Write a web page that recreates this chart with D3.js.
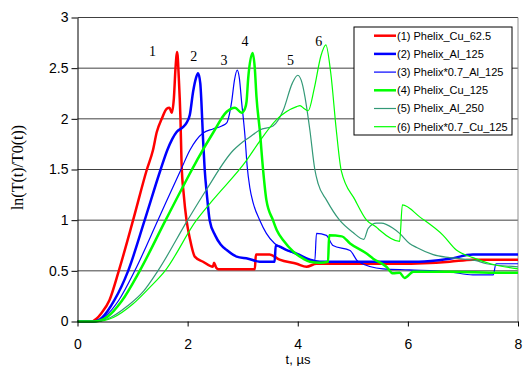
<!DOCTYPE html>
<html>
<head>
<meta charset="UTF-8">
<title>ln(T/T0)</title>
<style>
  body { margin: 0; background: #fff; }
  svg { display: block; }
  .tick text { font-family: Arial, "Liberation Sans", sans-serif; font-size: 14px; fill: #000; }
</style>
</head>
<body>
<script src="https://cdnjs.cloudflare.com/ajax/libs/d3/7.8.5/d3.min.js"></script>
<script>
// axis ticks
const xTicks = [0, 2, 4, 6, 8];
const yTicks = [0, 0.5, 1, 1.5, 2, 2.5, 3];

const seriesNames = ["(1) Phelix_Cu_62.5", "(2) Phelix_Al_125", "(3) Phelix*0.7_Al_125",
  "(4) Phelix_Cu_125", "(5) Phelix_Al_250", "(6) Phelix*0.7_Cu_125"];

// [t (us), ln(T/T0)]
const cu625 = [[0,0],[0.25,0],[0.35,0.03],[0.43,0.08],[0.58,0.21],[0.75,0.5],[1.01,1.0],[1.26,1.5],[1.37,1.69],
  [1.44,1.87],[1.53,2.0],[1.62,2.1],[1.67,2.11],[1.71,2.06],[1.75,2.2],[1.78,2.5],[1.81,2.66],[1.84,2.4],
  [1.87,2.0],[1.89,1.56],[1.93,1.25],[1.98,1.0],[2.04,0.82],[2.13,0.64],[2.28,0.59],[2.46,0.54],[2.48,0.58],
  [2.52,0.53],[2.56,0.515],[3.22,0.515],[3.24,0.66],[3.49,0.66],[3.67,0.61],[3.98,0.57],[4.16,0.54],[4.34,0.57],
  [5.19,0.57],[5.85,0.57],[6.76,0.59],[7.18,0.61],[8,0.61]];
const al125 = [[0,0],[0.3,0],[0.45,0.04],[0.67,0.21],[0.92,0.5],[1.22,1.0],[1.51,1.5],[1.63,1.69],[1.72,1.8],
  [1.8,1.87],[1.92,1.92],[1.98,1.96],[2.04,2.04],[2.1,2.27],[2.15,2.4],[2.19,2.45],[2.23,2.35],[2.25,2.17],
  [2.28,1.8],[2.31,1.5],[2.35,1.25],[2.4,1.0],[2.5,0.85],[2.6,0.76],[2.71,0.705],[2.89,0.64],[3.1,0.62],
  [3.31,0.59],[3.58,0.59],[3.6,0.75],[3.8,0.705],[3.98,0.67],[4.22,0.61],[4.4,0.59],[5.31,0.59],[6.2,0.59],
  [6.76,0.62],[7.18,0.66],[8,0.66]];
const al125x07 = [[0,0],[0.3,0],[0.5,0.05],[0.75,0.21],[1.04,0.5],[1.46,1.0],[1.88,1.5],[2.04,1.69],[2.28,1.86],
  [2.46,1.9],[2.62,1.93],[2.71,1.96],[2.76,2.05],[2.8,2.17],[2.85,2.38],[2.9,2.48],[2.94,2.4],[2.98,2.17],
  [3.04,1.84],[3.08,1.54],[3.13,1.32],[3.19,1.17],[3.31,1.0],[3.43,0.87],[3.58,0.77],[3.74,0.72],[3.98,0.66],
  [4.22,0.61],[4.31,0.6],[4.34,0.87],[4.52,0.85],[4.64,0.75],[4.95,0.7],[5.1,0.59],[5.55,0.52],[6.03,0.51],
  [6.76,0.49],[7.18,0.46],[7.55,0.46],[7.6,0.57],[8,0.57]];
const cu125 = [[0,0],[0.3,0],[0.55,0.05],[0.8,0.2],[1.13,0.5],[1.6,1.0],[2.08,1.5],[2.2,1.62],[2.46,1.86],
  [2.71,2.07],[2.86,2.11],[2.98,2.06],[3.04,2.1],[3.07,2.17],[3.1,2.4],[3.18,2.65],[3.22,2.5],[3.25,2.22],
  [3.31,1.89],[3.37,1.5],[3.43,1.2],[3.55,1.0],[3.62,0.9],[3.74,0.8],[3.92,0.69],[4.1,0.62],[4.22,0.59],
  [4.4,0.58],[4.55,0.59],[4.57,0.85],[4.8,0.84],[4.95,0.77],[5.25,0.67],[5.37,0.62],[5.61,0.54],[5.73,0.475],
  [5.85,0.48],[5.94,0.43],[6.1,0.49],[6.76,0.49],[7.67,0.48],[8,0.48]];
const al250 = [[0,0],[0.35,0],[0.6,0.04],[0.9,0.15],[1.2,0.3],[1.46,0.5],[2.0,1.0],[2.34,1.3],[2.83,1.69],
  [2.95,1.75],[3.13,1.82],[3.31,1.89],[3.55,1.93],[3.74,2.09],[3.9,2.35],[4.0,2.43],[4.08,2.35],[4.13,2.22],
  [4.22,1.89],[4.31,1.5],[4.37,1.36],[4.52,1.2],[4.76,1.0],[5.0,0.88],[5.2,0.81],[5.28,0.92],[5.43,0.97],
  [5.52,0.97],[5.73,0.92],[5.85,0.87],[6.03,0.77],[6.16,0.73],[6.46,0.66],[6.76,0.63],[7.24,0.6],[7.43,0.57],
  [8,0.54]];
const cu125x07 = [[0,0],[0.35,0],[0.65,0.04],[1.0,0.17],[1.3,0.33],[1.59,0.5],[2.16,1.0],[2.46,1.2],[3.07,1.59],
  [3.31,1.78],[3.61,1.99],[3.98,2.12],[4.04,2.13],[4.12,2.1],[4.19,2.08],[4.3,2.3],[4.42,2.62],[4.51,2.73],
  [4.6,2.45],[4.7,1.89],[4.79,1.49],[5.04,1.2],[5.25,1.0],[5.43,0.93],[5.49,0.9],[5.85,0.79],[5.9,1.15],
  [6.22,1.03],[6.64,0.85],[6.88,0.705],[7.18,0.63],[7.5,0.57],[8,0.52]];

const seriesData = [cu625, al125, al125x07, cu125, al250, cu125x07];
const seriesColors = ["#ff0000", "#0000ff", "#0000ff", "#00ff00", "#339977", "#00ff00"];
const seriesWidths = [2.5, 2.5, 1.2, 2.5, 1.2, 1.2];

// curve numbers written over the peaks
const peakLabels = ["1", "2", "3", "4", "5", "6"];
const peakLabelT = [1.36, 2.11, 2.66, 3.04, 3.87, 4.38];
const peakLabelV = [2.67, 2.62, 2.58, 2.77, 2.58, 2.77];

const width = 524, height = 366;
const svg = d3.select("body").append("svg")
  .attr("width", width).attr("height", height);

const x = d3.scaleLinear().domain([0, 8]).range([77.5, 518]);
const y = d3.scaleLinear().domain([0, 3]).range([321.5, 17.5]);

// grid
svg.append("g").selectAll("line")
  .data(yTicks.filter(d => d > 0))
  .enter().append("line")
  .attr("x1", x(0)).attr("x2", x(8))
  .attr("y1", d => y(d)).attr("y2", d => y(d))
  .attr("stroke", "#404040").attr("stroke-width", 1);

// right border
svg.append("line")
  .attr("x1", x(8)).attr("x2", x(8))
  .attr("y1", y(3)).attr("y2", y(0))
  .attr("stroke", "#909090");

// curves
const line = d3.line()
  .x(d => x(d[0])).y(d => y(d[1]))
  .curve(d3.curveMonotoneX);

svg.append("g").selectAll("path")
  .data(seriesData)
  .enter().append("path")
  .attr("d", line)
  .attr("fill", "none")
  .attr("stroke", (d, i) => seriesColors[i])
  .attr("stroke-width", (d, i) => seriesWidths[i])
  .attr("stroke-linejoin", "round");

// axes
const xAxis = svg.append("g")
  .attr("transform", "translate(0," + y(0) + ")")
  .call(d3.axisBottom(x).tickValues(xTicks).tickSize(5).tickPadding(13).tickSizeOuter(0));
const yAxis = svg.append("g")
  .attr("transform", "translate(" + x(0) + ",0)")
  .call(d3.axisLeft(y).tickValues(yTicks).tickSize(6).tickPadding(3).tickSizeOuter(0)
    .tickFormat(d3.format("")));
[xAxis, yAxis].forEach(a => {
  a.select(".domain").attr("stroke", "#000");
  a.selectAll(".tick line").attr("stroke", "#000");
});

// axis titles
svg.append("text")
  .attr("x", 298).attr("y", 364)
  .attr("text-anchor", "middle")
  .style("font-family", "Arial, 'Liberation Sans', sans-serif")
  .style("font-size", "13px")
  .text("t, µs");

svg.append("text")
  .attr("transform", "translate(23," + y(1.52) + ") rotate(-90)")
  .attr("text-anchor", "middle")
  .style("font-family", "'Times New Roman', 'Liberation Serif', serif")
  .style("font-size", "16px")
  .text("ln(T(t)/T0(t))");

// peak numbers
svg.append("g").selectAll("text")
  .data(peakLabels)
  .enter().append("text")
  .attr("x", (d, i) => x(peakLabelT[i]))
  .attr("y", (d, i) => y(peakLabelV[i]))
  .attr("dy", "0.35em")
  .attr("text-anchor", "middle")
  .style("font-family", "'Times New Roman', 'Liberation Serif', serif")
  .style("font-size", "14px")
  .text(d => d);

// legend
const legend = svg.append("g").attr("transform", "translate(354,27)");
legend.append("rect")
  .attr("width", 158).attr("height", 108)
  .attr("fill", "#fff").attr("stroke", "#000");
const item = legend.selectAll(".item")
  .data(seriesNames)
  .enter().append("g")
  .attr("transform", (d, i) => "translate(0," + (8.7 + i * 18.2) + ")");
item.append("line")
  .attr("x1", 20).attr("x2", 42)
  .attr("stroke", (d, i) => seriesColors[i])
  .attr("stroke-width", (d, i) => seriesWidths[i]);
item.append("text")
  .attr("x", 43).attr("dy", "0.35em")
  .style("font-family", "Arial, 'Liberation Sans', sans-serif")
  .style("font-size", "11px")
  .text(d => d);
</script>
</body>
</html>
